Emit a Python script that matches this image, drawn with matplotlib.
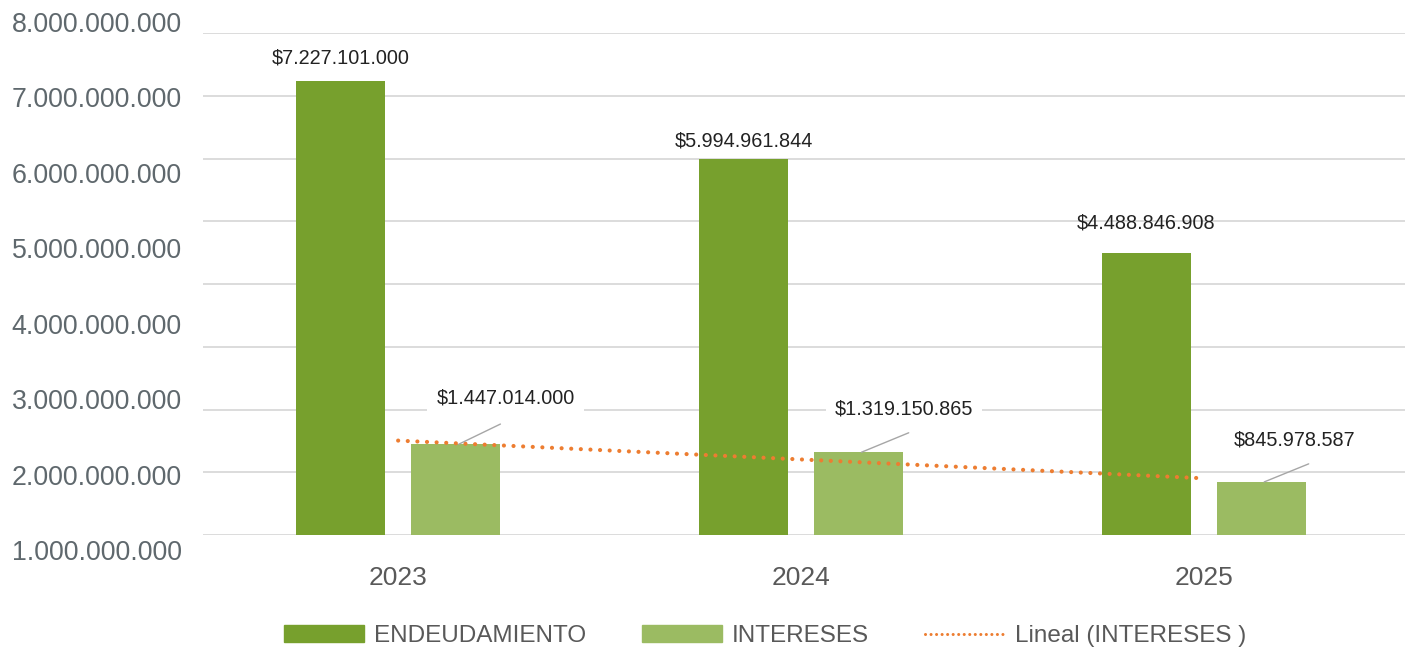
import numpy as np
import matplotlib
matplotlib.use("Agg")
import matplotlib.pyplot as plt
from matplotlib.patches import Patch
from matplotlib.lines import Line2D

# ---- data ----
years = ["2023", "2024", "2025"]
endeudamiento = [7227101000, 5994961844, 4488846908]
intereses = [1447014000, 1319150865, 845978587]
ytick_values = [1e9, 2e9, 3e9, 4e9, 5e9, 6e9, 7e9, 8e9]
series_names = ["ENDEUDAMIENTO", "INTERESES", "Lineal (INTERESES )"]

# ---- label placement (offsets in points) ----
end_label_offsets = [(0, 17), (0, 13), (0, 22)]
int_label_offsets = [(36, 33), (33, 31), (24, 30)]
int_leader_offsets = [(30, 14.5), (34, 14), (32, 13)]

C_DARK = "#77A02D"
C_LIGHT = "#9BBB62"
C_TREND = "#ED7D31"
C_GRID = "#D9D9D9"
C_TEXT = "#595959"

def fmt(v):
    return "$" + f"{v:,}".replace(",", ".")

W, H = 1405, 651
fig = plt.figure(figsize=(W / 100, H / 100), dpi=100)
ax = fig.add_axes([203 / W, 116 / H, (W - 203) / W, 502 / H])

x = np.arange(len(years))
bw = 0.221
off = 0.1425
ax.bar(x - off, endeudamiento, bw, color=C_DARK, zorder=2)
ax.bar(x + off, intereses, bw, color=C_LIGHT, zorder=2)

# trend line (linear fit of INTERESES)
k, b = np.polyfit(x, intereses, 1)
ax.plot(x, k * x + b, color=C_TREND, lw=3.0, linestyle=(0, (0.01, 2.3)),
        dash_capstyle="round", zorder=3)

ax.set_xlim(-0.4845, 2.5)
ax.set_ylim(0, 8e9)
ax.set_yticks(np.arange(0, 9) * 1e9)
ax.set_yticklabels([])
ax.grid(axis="y", color=C_GRID, lw=1.3, zorder=0)
ax.set_axisbelow(True)
ax.tick_params(axis="both", length=0)
for s in ax.spines.values():
    s.set_visible(False)
ax.set_xticks(x)
ax.set_xticklabels(years, fontsize=19, color=C_TEXT, family=["Liberation Sans"])
ax.tick_params(axis="x", pad=22)

lab_font = dict(fontsize=14.3, color="#222222", family=["Liberation Sans"])
for i, v in enumerate(endeudamiento):
    ax.annotate(fmt(v), xy=(x[i] - off, v), xytext=end_label_offsets[i],
                textcoords="offset points", ha="center", va="center", **lab_font)
for i, v in enumerate(intereses):
    ax.annotate("", xy=(x[i] + off + 0.008, v), xytext=int_leader_offsets[i],
                textcoords="offset points",
                arrowprops=dict(arrowstyle="-", color="#A6A6A6", lw=1.0,
                                shrinkA=0, shrinkB=0), zorder=4)
    ax.annotate(fmt(v), xy=(x[i] + off, v), xytext=int_label_offsets[i],
                textcoords="offset points", ha="center", va="center",
                bbox=dict(boxstyle="square,pad=0.45", fc="white", ec="none"),
                zorder=5, **lab_font)

# y labels (separate axis, as in the reference)
ax2 = fig.add_axes([190 / W, 101 / H, 0.001, 528 / H])
ax2.set_ylim(1e9, 8e9)
ax2.set_yticks(ytick_values)
ax2.set_yticklabels([f"{int(v):,}".replace(",", ".") for v in ytick_values],
                    fontsize=19.3, color="#5F686D", family=["Liberation Sans"])
ax2.tick_params(axis="y", length=0, pad=6)
ax2.set_xticks([])
for s in ax2.spines.values():
    s.set_visible(False)
ax2.patch.set_visible(False)

handles = [
    Patch(color=C_DARK, label=series_names[0]),
    Patch(color=C_LIGHT, label=series_names[1]),
    Line2D([], [], color=C_TREND, lw=2.2, linestyle=(0, (0.01, 1.8)),
           dash_capstyle="round", label=series_names[2]),
]
fs = 17.5
leg = fig.legend(handles=handles, loc="center", bbox_to_anchor=(765 / W, 15 / H),
                 ncol=3, frameon=False,
                 prop=dict(family=["Liberation Sans"], size=fs),
                 handlelength=80 / (fs * 1.389), handleheight=16 / (fs * 1.389),
                 handletextpad=10 / (fs * 1.389),
                 columnspacing=56 / (fs * 1.389), labelcolor=C_TEXT, borderpad=0)

fig.savefig("out.png", dpi=100)
